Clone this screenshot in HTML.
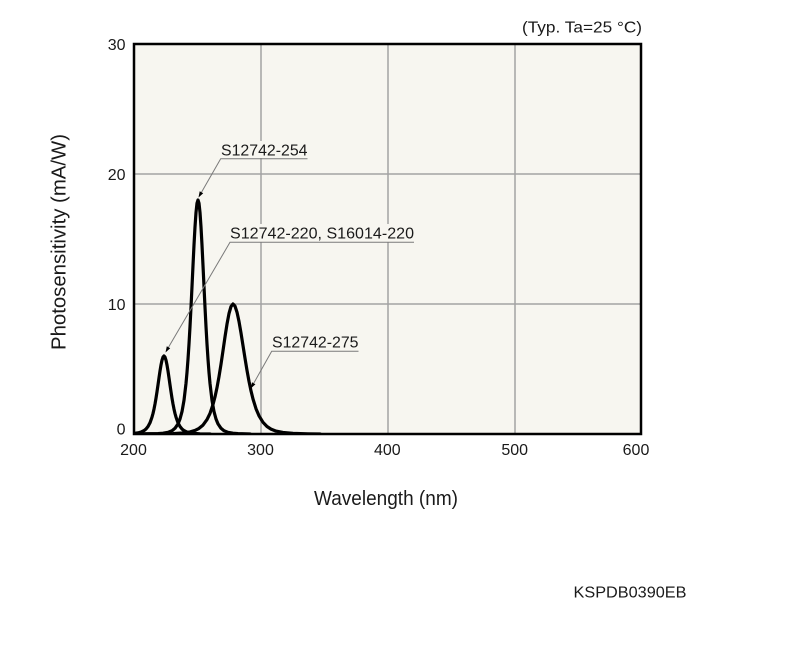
<!DOCTYPE html>
<html>
<head>
<meta charset="utf-8">
<style>
  html, body { margin: 0; padding: 0; background: #ffffff; }
  svg { display: block; }
  text { font-family: "Liberation Sans", "DejaVu Sans", sans-serif; fill: #1a1a1a; }
</style>
</head>
<body>
<svg width="790" height="666" viewBox="0 0 790 666" xmlns="http://www.w3.org/2000/svg">
  <defs>
    <clipPath id="plotclip">
      <rect x="134" y="40" width="507" height="394"/>
    </clipPath>
  </defs>
  <rect x="0" y="0" width="790" height="666" fill="#ffffff"/>

  <!-- plot background -->
  <rect x="134" y="44" width="507" height="390" fill="#f7f6f0"/>

  <!-- grid -->
  <g stroke="#a3a3a3" stroke-width="1.5" fill="none">
    <line x1="261" y1="44" x2="261" y2="434"/>
    <line x1="388" y1="44" x2="388" y2="434"/>
    <line x1="515" y1="44" x2="515" y2="434"/>
    <line x1="134" y1="174" x2="641" y2="174"/>
    <line x1="134" y1="304" x2="641" y2="304"/>
  </g>

  <!-- label backgrounds (knock out grid) -->
  <rect x="220" y="141" width="89" height="17" fill="#f7f6f0"/>
  <rect x="229" y="224" width="187" height="18" fill="#f7f6f0"/>
  <rect x="271" y="333" width="89" height="18" fill="#f7f6f0"/>

  <!-- curves -->
  <g fill="none" stroke="#000" stroke-width="3.2" stroke-linejoin="round" stroke-linecap="round" clip-path="url(#plotclip)">
    <!-- S12742-220 -->
    <polyline points="134,433.4 138,432.9 141,432.1 144,430.6 146,429 148,426.5 150,422.8 152,417.1 153,413.5 154,409.1 155,404 156,398.2 157,391.7 158,384.9 159,377.8 160,371 161,365 162,360.2 163,357.1 164,356 165,357.1 166,360.2 167,365 168,371 169,377.8 170,384.9 171,391.7 172,398.2 173,404 174,409.1 175,413.5 176,417.1 178,422.8 180,426.5 182,429 184,430.6 187,432.1 190,432.9 194,433.4 200,433.8 210,434"/>
    <!-- S12742-254 -->
    <polyline points="134,434 158,433.6 163,433.2 168,432.3 172,430.7 175,428.3 178,423.9 180,419 182,411.6 184,400.3 186,383.4 187,372.4 188,359.2 189,344 190,326.6 191,307.2 192,286.6 193,265.5 194,245.1 195,227 196,212.5 197,203.2 198,200 199,203.2 200,212.5 201,227 202,245.1 203,265.5 204,286.6 205,307.2 206,326.6 207,344 208,359.2 209,372.4 210,383.4 212,400.3 214,411.6 216,419 218,423.9 221,428.3 224,430.7 228,432.3 233,433.2 238,433.6 250,434"/>
    <!-- S12742-275 -->
    <polyline points="134,434 160,433.9 173,433.6 183,433 190,431.9 195,430.4 199,428.4 203,425.1 207,419.6 210,413.4 213,404.5 215,396.9 217,387.6 219,376.6 221,364.2 223,350.7 225,336.9 227,324.1 229,313.5 231,306.5 233,304 235,306.1 237,312.2 239,321.5 241,333 243,345.6 245,358.3 247,370.4 249,381.3 251,390.9 253,399 256,408.7 259,415.8 263,422.3 267,426.5 271,429.1 276,431.1 283,432.5 293,433.4 308,433.8 320,434"/>
  </g>

  <!-- frame -->
  <rect x="134" y="44" width="507" height="390" fill="none" stroke="#000" stroke-width="2.5"/>

  <!-- leader lines and underlines -->
  <g stroke="#7a7a7a" stroke-width="1" fill="none">
    <polyline points="307.5,158.7 220.7,158.7 201.5,192.3"/>
    <polyline points="414,242.3 230,242.3 168.5,347.3"/>
    <polyline points="358.5,351.3 271.7,351.3 253.7,383.3"/>
  </g>
  <!-- arrowheads -->
  <g fill="#000">
    <polygon points="198.5,197.5 203.2,193.3 199.7,191.3"/>
    <polygon points="165.5,352.5 170.2,348.3 166.8,346.3"/>
    <polygon points="250.8,388.5 255.4,384.3 252,382.3"/>
  </g>

  <!-- curve labels -->
  <text x="221" y="155.7" font-size="16" textLength="86.5" lengthAdjust="spacingAndGlyphs">S12742-254</text>
  <text x="230" y="238.3" font-size="16" textLength="184" lengthAdjust="spacingAndGlyphs">S12742-220, S16014-220</text>
  <text x="272" y="347.3" font-size="16" textLength="86.5" lengthAdjust="spacingAndGlyphs">S12742-275</text>

  <!-- y tick labels -->
  <g font-size="16" text-anchor="end">
    <text x="125.5" y="50">30</text>
    <text x="125.5" y="180">20</text>
    <text x="125.5" y="310">10</text>
    <text x="125.5" y="434.3">0</text>
  </g>

  <!-- x tick labels -->
  <g font-size="16" text-anchor="middle">
    <text x="133.5" y="455">200</text>
    <text x="260.5" y="455">300</text>
    <text x="387.3" y="455">400</text>
    <text x="514.7" y="455">500</text>
    <text x="636" y="455">600</text>
  </g>

  <!-- axis titles -->
  <text x="314" y="505" font-size="20" textLength="144" lengthAdjust="spacingAndGlyphs">Wavelength (nm)</text>
  <text transform="translate(65.5,350) rotate(-90)" x="0" y="0" font-size="20" textLength="216" lengthAdjust="spacingAndGlyphs">Photosensitivity (mA/W)</text>

  <!-- condition note -->
  <text x="522" y="32.3" font-size="16" textLength="120" lengthAdjust="spacingAndGlyphs">(Typ. Ta=25 °C)</text>

  <!-- figure code -->
  <text x="573.5" y="597.6" font-size="15.5" textLength="113" lengthAdjust="spacingAndGlyphs">KSPDB0390EB</text>
</svg>
</body>
</html>
